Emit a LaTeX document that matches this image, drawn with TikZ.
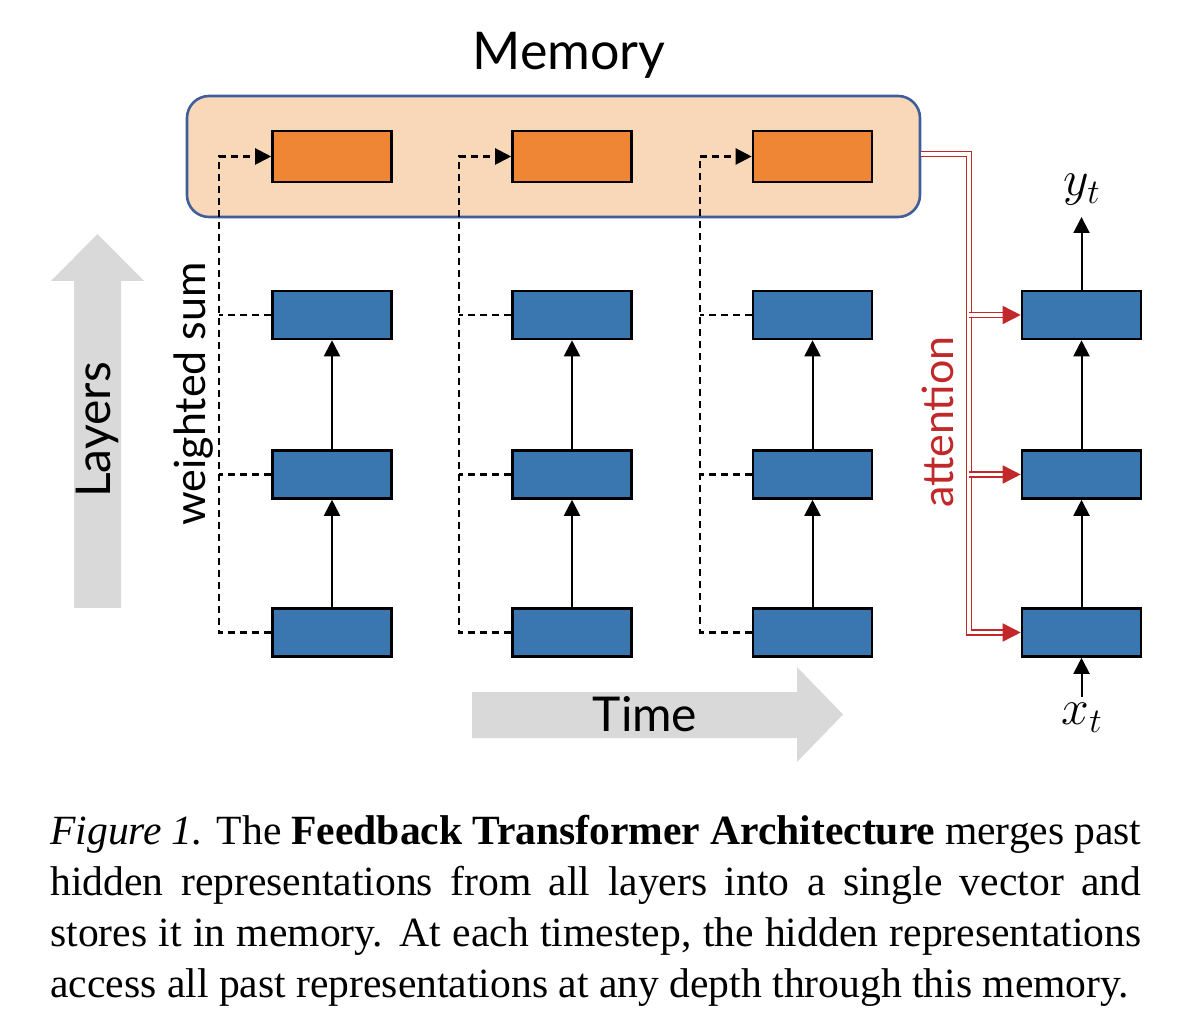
\documentclass[tikz,border=0pt]{standalone}
\usepackage{fontspec}
\setmainfont{Liberation Serif}
\newfontfamily\lab{Lato}
\usetikzlibrary{arrows.meta}
\definecolor{boxblue}{HTML}{3A76AF}
\definecolor{boxorange}{HTML}{EF8636}
\definecolor{memfill}{HTML}{F8D8B9}
\definecolor{memedge}{HTML}{3F5E99}
\definecolor{attred}{HTML}{C0282A}
\definecolor{arrgray}{HTML}{D9D9D9}
\begin{document}
\begin{tikzpicture}[x=0.5pt,y=-0.5pt,
  hid/.style={draw=black, line width=1.3pt, fill=boxblue, minimum width=59.5pt, minimum height=24pt, inner sep=0pt},
  memcell/.style={hid, fill=boxorange, minimum height=25.5pt},
  memframe/.style={draw=memedge, fill=memfill, line width=1.3pt, rounded corners=11pt, minimum width=366.5pt, minimum height=60.5pt, inner sep=0pt},
  up/.style={-{Triangle[length=8pt,width=8pt]}, line width=1pt},
  dsh/.style={dash pattern=on 3.5pt off 2.5pt, line width=1.1pt},
  dsharrow/.style={dsh, -{Triangle[length=8pt,width=8pt]}},
  att/.style={draw=attred, double=white, double distance=1.7pt, line width=0.75pt},
  attarrow/.style={att, -{Triangle[length=9pt,width=9pt,fill=attred,color=attred]}},
  bigtext/.style={font=\lab\fontsize{24}{28}\selectfont},
  memtext/.style={font=\lab\fontsize{26}{30}\selectfont},
  midtext/.style={font=\lab\fontsize{21.5}{26}\selectfont},
  mathlab/.style={font=\fontsize{27}{30}\selectfont, inner sep=1pt}
]
\useasboundingbox (0,0) rectangle (1182,1036);

% gray arrows
\fill[arrgray] (74,608) -- (74,281) -- (51,281) -- (97.5,234) -- (144,281) -- (121,281) -- (121,608) -- cycle;
\fill[arrgray] (472,692) -- (797,692) -- (797,667) -- (843,714.5) -- (797,762) -- (797,738) -- (472,738) -- cycle;
\node[bigtext, rotate=90] (layers) at (97,430) {Layers};
\node[bigtext] (time) at (645,714) {Time};

% memory
\node[memtext] (memlabel) at (569,55) {Memory};
\node[memframe] (membox) at (553.5,156.5) {};
\node[memcell] (m1) at (332,156.5) {};
\node[memcell] (m2) at (572,156.5) {};
\node[memcell] (m3) at (812.5,156.5) {};

% hidden boxes
\foreach \c/\x in {1/332,2/572,3/812.5,4/1081.5}{
  \node[hid] (h\c a) at (\x,632.5) {};
  \node[hid] (h\c b) at (\x,474.5) {};
  \node[hid] (h\c c) at (\x,315) {};
  \draw[up] (h\c a.north) -- (h\c b.south);
  \draw[up] (h\c b.north) -- (h\c c.south);
}

% dashed weighted sums
\coordinate (d1) at (219,156.5);
\coordinate (d2) at (459,156.5);
\coordinate (d3) at (700,156.5);
\foreach \c in {1,2,3}{
  \draw[dsharrow] (h\c a.west) -- (h\c a.west -| d\c) -- (d\c) -- (m\c.west);
  \draw[dsh] (h\c b.west) -- (h\c b.west -| d\c);
  \draw[dsh] (h\c c.west) -- (h\c c.west -| d\c);
}
\node[midtext, rotate=90] (wsum) at (194,394) {weighted sum};

% attention
\coordinate (rt) at (969,154);
\draw[attarrow] (membox.east |- rt) -- (rt) -- (rt |- h4a.west) -- (h4a.west);
\draw[attarrow] (rt |- h4b.west) -- (h4b.west);
\draw[attarrow] (rt |- h4c.west) -- (h4c.west);
\node[midtext, rotate=90, text=attred] (attn) at (938,422) {attention};

% inputs / outputs
\node[mathlab] (yt) at (1082,190) {$y_t$};
\node[mathlab] (xt) at (1082,718) {$x_t$};
\draw[up] (h4c.north) -- (h4c.north |- 0,217);
\draw[up] (h4a.south |- 0,697) -- (h4a.south);

% caption
\node[anchor=base west, text width=545.5pt, inner sep=0pt, align=justify, font=\fontsize{20.8}{25.65}\selectfont] (cap) at (50,844)
{\textit{Figure 1.} The \textbf{Feedback Transformer Architecture} merges past\linebreak hidden representations from all layers into a single vector and\linebreak stores it in memory. At each timestep, the hidden representations\linebreak access all past representations at any depth through this memory.};
\end{tikzpicture}
\end{document}
